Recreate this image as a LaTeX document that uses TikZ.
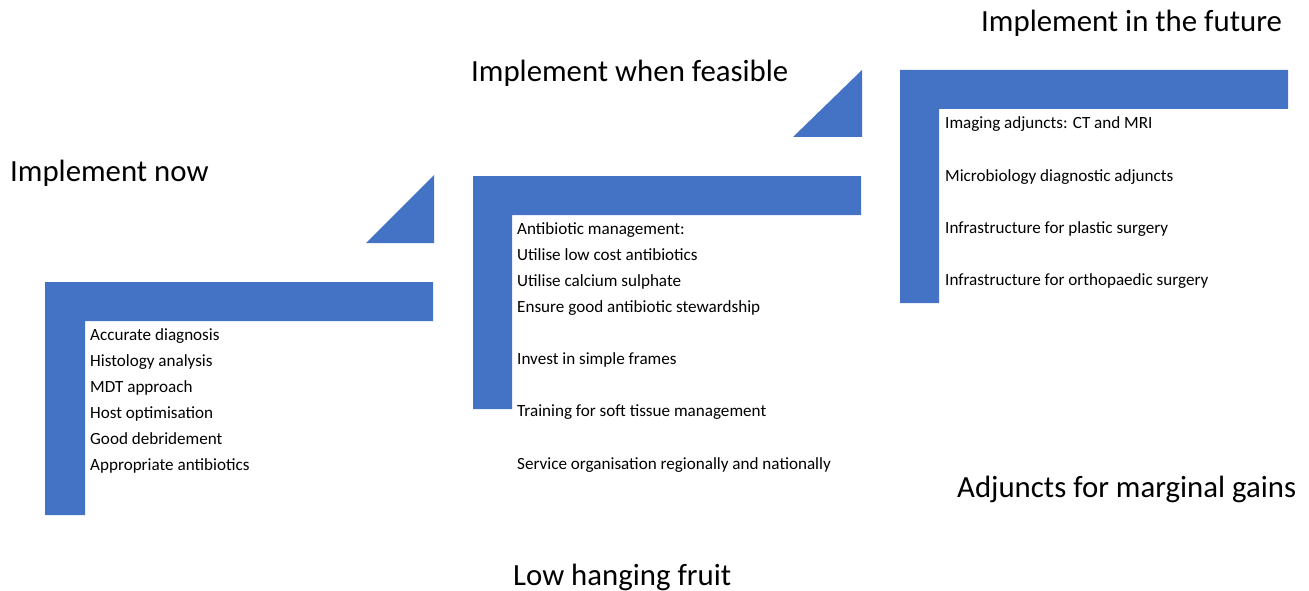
\documentclass[tikz,border=0pt]{standalone}
\usepackage{fontspec}
\setmainfont{Carlito}
\definecolor{stepblue}{HTML}{4472C4}
\begin{document}
\begin{tikzpicture}[x=1pt,y=-1pt,
  heading/.style={anchor=base west,inner sep=0pt,font=\fontsize{30.8}{36}\selectfont},
  item/.style={anchor=base west,inner sep=0pt,font=\fontsize{17.1}{20}\selectfont},
  stair/.style={fill=stepblue},
  wedge/.style={fill=stepblue}]
\useasboundingbox (0,0) rectangle (1309,591);

% stair steps (L-shaped bars)
\fill[stair] (45,282) -- (433,282) -- (433,321) -- (85,321) -- (85,515) -- (45,515) -- cycle;
\fill[stair] (473,176) -- (861,176) -- (861,215) -- (512,215) -- (512,409) -- (473,409) -- cycle;
\fill[stair] (900,70) -- (1288,70) -- (1288,109) -- (939,109) -- (939,303) -- (900,303) -- cycle;

% rising wedges between the steps
\fill[wedge] (366,243) -- (434,243) -- (434,175) -- cycle;
\fill[wedge] (793,137) -- (862,137) -- (862,70) -- cycle;

% headings
\node[heading] (now) at (10,182) {Implement now};
\node[heading] (feasible) at (471,82) {Implement when feasible};
\node[heading] (future) at (981,32) {Implement in the future};
\node[heading] (marginal) at (957,497) {Adjuncts for marginal gains};
\node[heading] (fruit) at (513,585) {Low hanging fruit};

% first step
\node[item] (a1) at (90,340) {Accurate diagnosis};
\node[item] (a2) at (90,366) {Histology analysis};
\node[item] (a3) at (90,392) {MDT approach};
\node[item] (a4) at (90,418) {Host optimisation};
\node[item] (a5) at (90,444) {Good debridement};
\node[item] (a6) at (90,470) {Appropriate antibiotics};

% second step
\node[item] (b1) at (517,234) {Antibiotic management:};
\node[item] (b2) at (517,260) {Utilise low cost antibiotics};
\node[item] (b3) at (517,286) {Utilise calcium sulphate};
\node[item] (b4) at (517,312) {Ensure good antibiotic stewardship};
\node[item] (b5) at (517,364) {Invest in simple frames};
\node[item] (b6) at (517,416) {Training for soft tissue management};
\node[item] (b7) at (517,469) {Service organisation regionally and nationally};

% third step
\node[item] (c1) at (945,129) {Imaging adjuncts: CT and MRI};
\node[item] (c2) at (945,181) {Microbiology diagnostic adjuncts};
\node[item] (c3) at (945,233) {Infrastructure for plastic surgery};
\node[item] (c4) at (945,285) {Infrastructure for orthopaedic surgery};
\end{tikzpicture}
\end{document}
